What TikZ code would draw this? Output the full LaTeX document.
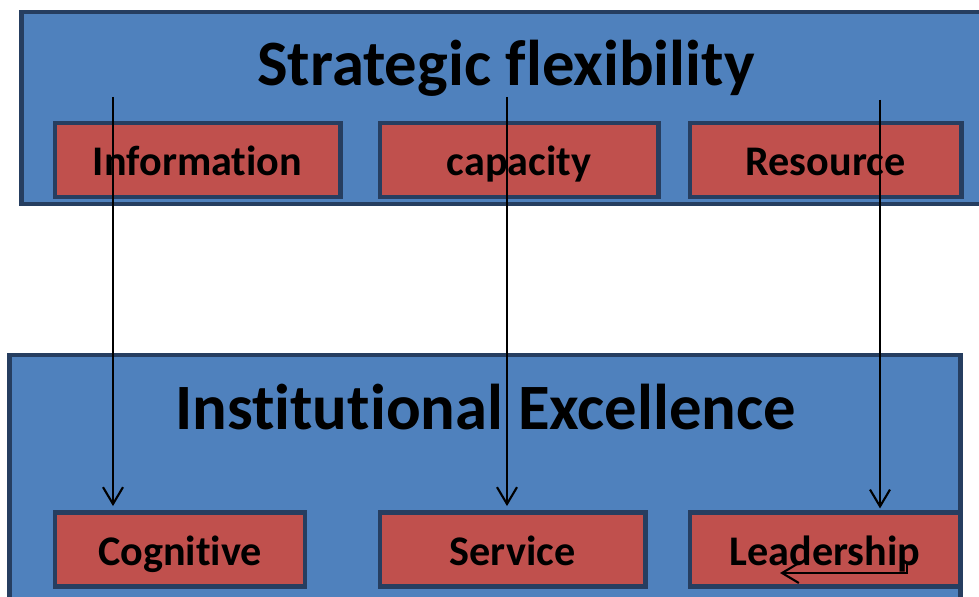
\documentclass[tikz,border=0pt]{standalone}
\usepackage{fontspec}
\setmainfont{Carlito}[Ligatures=NoCommon]
\usetikzlibrary{arrows.meta,positioning}
\definecolor{panelblue}{HTML}{4F81BD}
\definecolor{factorred}{HTML}{C0504D}
\definecolor{edgenavy}{RGB}{38,62,96}
\tikzset{
  panel/.style  = {draw=edgenavy, fill=panelblue, line width=3.5pt, inner sep=0pt},
  factor/.style = {draw=edgenavy, fill=factorred, line width=3.5pt, inner sep=0pt,
                   minimum height=1.85cm, text height=24pt, text depth=1.8pt,
                   font=\fontsize{30}{36}\selectfont\bfseries},
  ttl/.style    = {anchor=base, inner sep=0pt, font=\fontsize{46}{54}\selectfont\bfseries},
  ar/.style     = {-{Straight Barb[length=4.2mm,width=5mm]}, line width=1.5pt}
}

\begin{document}
\begin{tikzpicture}[x=0.025cm, y=-0.025cm]
  \useasboundingbox (0,0) rectangle (979,597);
  % the two panels
  \node[panel, minimum width=24.45cm, minimum height=4.8cm] (flex) at (511,108) {};
  \node[panel, minimum width=23.75cm, minimum height=6.625cm] (exc) at (485,487.5) {};
  % factors of each panel
  \node[factor, minimum width=7.125cm] (info) at (197.5,160) {Information};
  \node[factor, minimum width=6.95cm]  (cap)  at (519,160)   {capacity};
  \node[factor, minimum width=6.775cm] (res)  at (825.5,160) {Resource};
  \node[factor, minimum width=6.25cm]  (cog)  at (180,549.5) {Cognitive};
  \node[factor, minimum width=6.625cm] (serv) at (512.5,549.5) {Service};
  \node[factor, minimum width=6.75cm]  (lead) at (825,549.5) {Leadership};
  \node[ttl] (flexttl) at (506,86)  {Strategic flexibility};
  \node[ttl] (excttl)  at (485.5,429) {Institutional Excellence};
  % links between the panels
  \coordinate (s1) at (113,97);
  \coordinate (s2) at (507,97);
  \coordinate (s3) at (880,100);
  \draw[ar, shorten >=1mm] (s1) -- (s1 |- cog.north);
  \draw[ar, shorten >=1mm] (s2) -- (s2 |- serv.north);
  \draw[ar, shorten >=0.4mm] (s3) -- (s3 |- lead.north);
  \coordinate (k1) at (907,562);
  \coordinate (k2) at (780,573);
  \draw[ar] (k1) |- (k2);
\end{tikzpicture}
\end{document}
